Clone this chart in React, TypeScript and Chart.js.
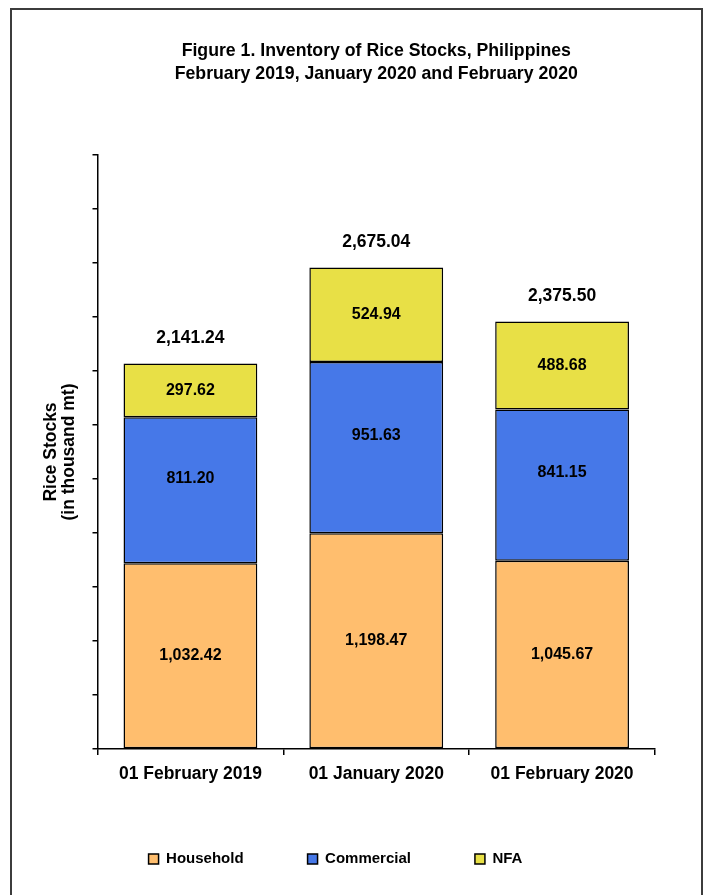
import React, { useEffect, useRef } from "react";
import { Chart, registerables } from "chart.js";

Chart.register(...registerables);

const categories = ["01 February 2019", "01 January 2020", "01 February 2020"];
const household = [1032.42, 1198.47, 1045.67];
const commercial = [811.2, 951.63, 841.15];
const nfa = [297.62, 524.94, 488.68];
const totals = [2141.24, 2675.04, 2375.5];
const seriesNames = ["Household", "Commercial", "NFA"];
const titleLines = [
  "Figure 1. Inventory of Rice Stocks, Philippines",
  "February 2019, January 2020 and February 2020",
];
const yTitleLines = ["Rice Stocks", "(in thousand mt)"];
const yMin = 0;
const yMax = 3300;
const yStep = 300;

const FONT = "'Liberation Sans', Arial, Helvetica, sans-serif";

const fmt = (v: number) =>
  v.toLocaleString("en-US", { minimumFractionDigits: 2, maximumFractionDigits: 2 });

const labelPlugin = {
  id: "barLabels",
  afterDatasetsDraw(chart: any) {
    const ctx = chart.ctx;
    ctx.save();
    ctx.fillStyle = "#000";
    ctx.textAlign = "center";
    ctx.textBaseline = "middle";
    chart.data.datasets.forEach((ds: any, di: number) => {
      const meta = chart.getDatasetMeta(di);
      const dy = ds.labelShift || 0;
      ctx.font = `bold 16px ${FONT}`;
      meta.data.forEach((bar: any, i: number) => {
        const { x, y, base } = bar.getProps(["x", "y", "base"], true);
        ctx.fillText(fmt(ds.data[i]), x, (y + base) / 2 + dy);
      });
    });
    const lastMeta = chart.getDatasetMeta(chart.data.datasets.length - 1);
    ctx.font = `bold 17.5px ${FONT}`;
    lastMeta.data.forEach((bar: any, i: number) => {
      const y = chart.scales.y.getPixelForValue(totals[i]);
      ctx.fillText(fmt(totals[i]), bar.x, y - 25);
    });
    ctx.restore();
  },
};

export default function App() {
  const ref = useRef<HTMLCanvasElement | null>(null);

  useEffect(() => {
    if (!ref.current) return;
    Chart.defaults.font.family = FONT;
    const common = {
      borderColor: "#000",
      borderWidth: 1.5,
      borderSkipped: false,
      barPercentage: 0.72,
      categoryPercentage: 1,
    };
    const chart = new Chart(ref.current, {
      type: "bar",
      data: {
        labels: categories,
        datasets: [
          { label: seriesNames[0], data: household, backgroundColor: "#FFBE6E", ...common },
          { label: seriesNames[1], data: commercial, backgroundColor: "#4678E8", labelShift: -12, ...common } as any,
          { label: seriesNames[2], data: nfa, backgroundColor: "#E8E046", ...common },
        ],
      },
      options: {
        animation: false,
        responsive: false,
        devicePixelRatio: 1,
        layout: { padding: { left: 4, right: 46, top: 0, bottom: 16.5 } },
        plugins: {
          title: {
            display: true,
            fullSize: false,
            text: titleLines,
            color: "#000",
            font: { size: 17.7, weight: "bold", lineHeight: 1.3 },
            padding: { top: 29.5, bottom: 69.5 },
          },
          legend: {
            position: "bottom",
            fullSize: true,
            labels: {
              boxWidth: 10,
              boxHeight: 10,
              padding: 64,
              color: "#000",
              font: { size: 15, weight: "bold" },
            },
          },
          tooltip: { enabled: false },
        },
        scales: {
          x: {
            stacked: true,
            offset: true,
            afterFit: (scale: any) => {
              scale.height = scale.height - 5.5;
            },
            grid: {
              offset: true,
              drawOnChartArea: false,
              drawTicks: true,
              tickLength: 6,
              color: "#000",
              lineWidth: 1.5,
            },
            border: { display: true, color: "#000", width: 1.5 },
            ticks: {
              color: "#000",
              font: { size: 17.5, weight: "bold" },
              padding: 8.5,
              maxRotation: 0,
              autoSkip: false,
            },
          },
          y: {
            stacked: true,
            min: yMin,
            max: yMax,
            ticks: { display: false, stepSize: yStep },
            grid: {
              drawOnChartArea: false,
              drawTicks: true,
              tickLength: 5,
              color: "#000",
              lineWidth: 1.5,
            },
            border: { display: true, color: "#000", width: 1.5 },
            title: {
              display: true,
              text: yTitleLines,
              color: "#000",
              font: { size: 17.5, weight: "bold", lineHeight: 1.05 },
              padding: { top: 26, bottom: 13.75 },
            },
          },
        },
      } as any,
      plugins: [labelPlugin],
    });
    return () => chart.destroy();
  }, []);

  return (
    <div
      style={{
        position: "fixed",
        left: 10,
        top: 8,
        width: 693,
        height: 892,
        border: "2px solid #3c3c3c",
        boxSizing: "border-box",
        overflow: "hidden",
      }}
    >
      <canvas ref={ref} width={689} height={883} style={{ display: "block", width: 689, height: 883 }} />
    </div>
  );
}
